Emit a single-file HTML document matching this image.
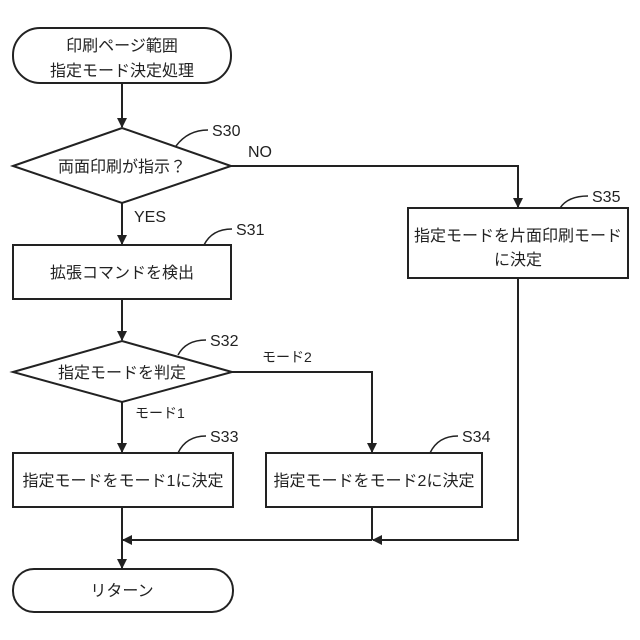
<!DOCTYPE html>
<html><head><meta charset="utf-8"><style>
html,body{margin:0;padding:0;background:#fff}
svg{display:block}
text{font-family:"Liberation Sans","Noto Sans CJK JP",sans-serif;fill:#222}
</style></head><body>
<svg width="640" height="640" viewBox="0 0 640 640" xmlns="http://www.w3.org/2000/svg">
<defs><marker id="a" markerWidth="10" markerHeight="10" refX="9" refY="5" orient="auto" markerUnits="userSpaceOnUse"><path d="M0,0 L10,5 L0,10 z" fill="#222"/></marker></defs>
<g stroke="#222" stroke-width="2" fill="none">
<rect x="13" y="28" width="218" height="55" rx="27" ry="27"/>
<polygon points="13,166 122,128 231,166 122,203"/>
<rect x="13" y="245" width="218" height="54"/>
<polygon points="13,372 122,341 232,372 122,402"/>
<rect x="13" y="453" width="220" height="54"/>
<rect x="266" y="453" width="216" height="54"/>
<rect x="408" y="208" width="220" height="70"/>
<rect x="13" y="569" width="220" height="43" rx="21" ry="21"/>
<line x1="122" y1="83" x2="122" y2="127" marker-end="url(#a)"/>
<line x1="122" y1="203" x2="122" y2="244" marker-end="url(#a)"/>
<line x1="122" y1="299" x2="122" y2="340" marker-end="url(#a)"/>
<line x1="122" y1="402" x2="122" y2="452" marker-end="url(#a)"/>
<polyline points="232,372 372,372 372,452" marker-end="url(#a)"/>
<polyline points="231,166 518,166 518,207" marker-end="url(#a)"/>
<line x1="122" y1="507" x2="122" y2="568" marker-end="url(#a)"/>
<line x1="372" y1="507" x2="372" y2="540"/>
<polyline points="518,278 518,540 373,540" marker-end="url(#a)"/>
<line x1="372" y1="540" x2="123" y2="540" marker-end="url(#a)"/>
<path d="M176,146 Q188,130 208,130" stroke-width="1.5"/>
<path d="M204,245 Q212,229 232,229" stroke-width="1.5"/>
<path d="M178,355 Q186,340 206,340" stroke-width="1.5"/>
<path d="M178,453 Q186,436 206,436" stroke-width="1.5"/>
<path d="M430,453 Q438,436 458,436" stroke-width="1.5"/>
<path d="M560,208 Q568,196 588,196" stroke-width="1.5"/>
</g>
<g font-size="16" text-anchor="middle">
<text x="122" y="51">印刷ページ範囲</text>
<text x="122" y="76">指定モード決定処理</text>
<text x="122" y="172">両面印刷が指示？</text>
<text x="122" y="278">拡張コマンドを検出</text>
<text x="122" y="378">指定モードを判定</text>
<text x="123" y="486">指定モードをモード1に決定</text>
<text x="374" y="486">指定モードをモード2に決定</text>
<text x="518" y="241">指定モードを片面印刷モード</text>
<text x="518" y="265">に決定</text>
<text x="122" y="596">リターン</text>
</g>
<g font-size="16">
<text x="212" y="136">S30</text>
<text x="248" y="157">NO</text>
<text x="134" y="222">YES</text>
<text x="236" y="235">S31</text>
<text x="210" y="346">S32</text>
<text x="262" y="362" font-size="14">モード2</text>
<text x="135" y="418" font-size="14">モード1</text>
<text x="210" y="442">S33</text>
<text x="462" y="442">S34</text>
<text x="592" y="202">S35</text>
</g>
</svg>
</body></html>
